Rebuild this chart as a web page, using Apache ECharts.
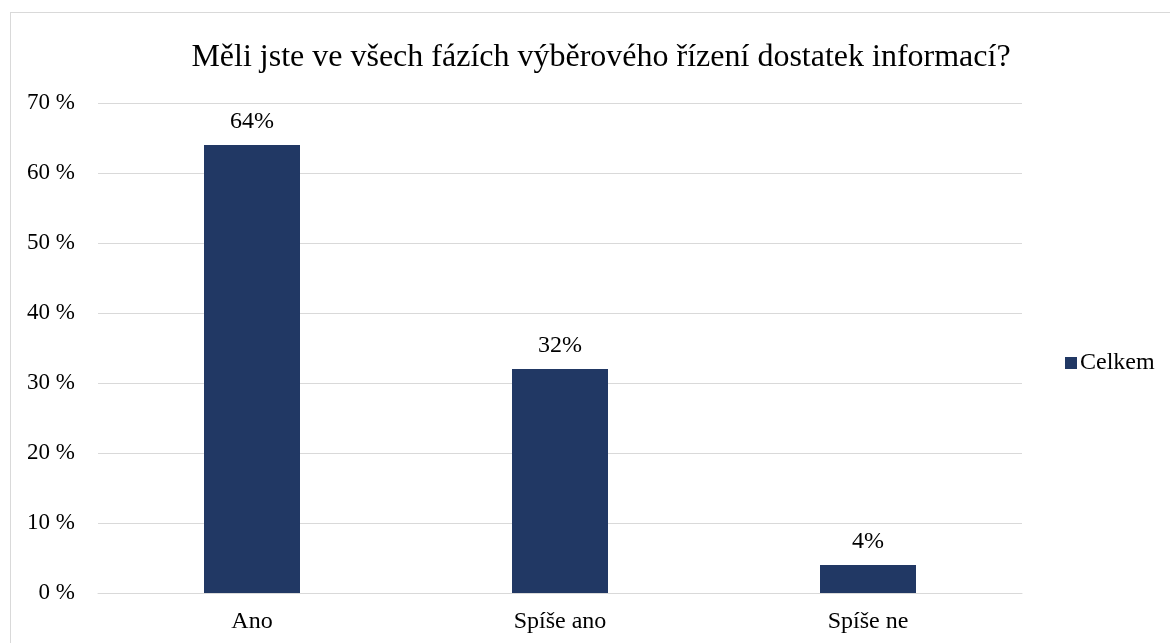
<!DOCTYPE html>
<html>
<head>
<meta charset="utf-8">
<script src="https://cdn.jsdelivr.net/npm/echarts@6/dist/echarts.min.js"></script>
<style>
  html, body { margin: 0; padding: 0; background: #fff; }
  #frame { position: absolute; left: 10px; top: 12px; width: 1170px; height: 650px; border: 1px solid #d9d9d9; box-sizing: border-box; }
  #chart { position: absolute; left: 0; top: 0; width: 1170px; height: 643px; }
</style>
</head>
<body>
<div id="frame"></div>
<div id="chart"></div>
<script>
const categories = ['Ano', 'Spíše ano', 'Spíše ne']
const celkem = [64, 32, 4]
const seriesName = 'Celkem'
const titleText = 'Měli jste ve všech fázích výběrového řízení dostatek informací?'

const font = '"Liberation Serif", "Times New Roman", serif'
const barColor = '#213864'

const chart = echarts.init(document.getElementById('chart'))
chart.setOption({
  animation: false,
  title: {
    text: titleText,
    left: 596,
    top: 37,
    textAlign: 'center',
    textStyle: { fontFamily: font, fontSize: 32, fontWeight: 'normal', color: '#000' }
  },
  legend: {
    data: [seriesName],
    left: 1060,
    top: 346,
    itemWidth: 12,
    itemHeight: 12,
    itemGap: 4,
    icon: 'rect',
    textStyle: { fontFamily: font, fontSize: 24, color: '#000', padding: [0, 0, 0, -2] }
  },
  grid: { left: 98, right: 148, top: 103, bottom: 50 },
  xAxis: {
    type: 'category',
    data: categories,
    axisLine: { lineStyle: { color: '#d9d9d9', width: 1 } },
    axisTick: { show: false },
    axisLabel: { fontFamily: font, fontSize: 24, color: '#000', margin: 17 }
  },
  yAxis: {
    type: 'value',
    min: 0,
    max: 70,
    interval: 10,
    axisLine: { show: false },
    axisTick: { show: false },
    splitLine: { lineStyle: { color: '#d9d9d9', width: 1 } },
    axisLabel: {
      fontFamily: font, fontSize: 23, color: '#000', margin: 23,
      formatter: v => v + ' %'
    }
  },
  series: [{
    name: seriesName,
    type: 'bar',
    data: celkem,
    barWidth: 96,
    itemStyle: { color: barColor },
    label: {
      show: true,
      position: 'top',
      distance: 11,
      fontFamily: font,
      fontSize: 24,
      color: '#000',
      formatter: p => p.value + '%'
    }
  }]
})
</script>
</body>
</html>
